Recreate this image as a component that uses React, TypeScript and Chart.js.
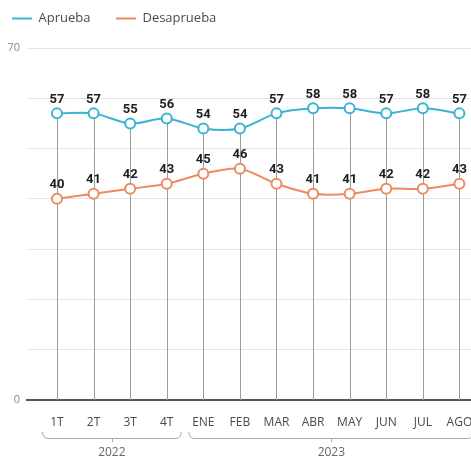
import React, { useEffect, useRef } from 'react';
import { Chart, registerables } from 'chart.js';
Chart.register(...registerables);

const categories = ['1T', '2T', '3T', '4T', 'ENE', 'FEB', 'MAR', 'ABR', 'MAY', 'JUN', 'JUL', 'AGO'];
const aprueba = [57, 57, 55, 56, 54, 54, 57, 58, 58, 57, 58, 57];
const desaprueba = [40, 41, 42, 43, 45, 46, 43, 41, 41, 42, 42, 43];
const seriesValues = [aprueba, desaprueba];
const groupLabels = ['2022', '2023'];
const groupStart = [0, 4];
const groupEnd = [3, 11];
const yGridValues = [0, 10, 20, 30, 40, 50, 60, 70];
const yLabelValues = [0, 70];

const TEAL = '#3bb3d2';
const ORANGE = '#ee8a62';

const overlay = {
  id: 'overlay',
  beforeUpdate(chart: any) {
    const lg = chart.legend;
    if (lg && !lg.__patched) {
      const orig = lg.fit.bind(lg);
      lg.fit = () => {
        orig();
        lg.height += 13;
      };
      lg.__patched = true;
    }
  },
  beforeDatasetsDraw(chart: any) {
    const { ctx, scales } = chart;
    const y = scales.y;
    const meta = chart.getDatasetMeta(0);
    const base = y.getPixelForValue(0);
    ctx.save();
    ctx.strokeStyle = '#9c9c9c';
    ctx.lineWidth = 1;
    meta.data.forEach((pt: any) => {
      const px = Math.round(pt.x) + 0.5;
      ctx.beginPath();
      ctx.moveTo(px, pt.y);
      ctx.lineTo(px, base);
      ctx.stroke();
    });
    ctx.restore();
  },
  afterDatasetsDraw(chart: any) {
    const { ctx, scales } = chart;
    const x = scales.x;
    const y = scales.y;
    ctx.save();
    ctx.fillStyle = '#1e1e1e';
    ctx.font = 'bold 13px Roboto';
    ctx.textAlign = 'center';
    ctx.textBaseline = 'middle';
    seriesValues.forEach((vals, di) => {
      const meta = chart.getDatasetMeta(di);
      meta.data.forEach((pt: any, i: number) => {
        ctx.fillText(String(vals[i]), pt.x, pt.y - 14);
      });
    });
    // group brackets
    const step = x.getPixelForValue(1) - x.getPixelForValue(0);
    const yb = y.getPixelForValue(0) + 38;
    ctx.strokeStyle = '#aaaaaa';
    ctx.lineWidth = 1;
    ctx.fillStyle = '#666666';
    ctx.font = '12px "Open Sans"';
    groupLabels.forEach((lab, gi) => {
      const x0 = x.getPixelForValue(groupStart[gi]) - step * 0.45 + 2;
      const x1 = x.getPixelForValue(groupEnd[gi]) + step * 0.45 - 2;
      const xc = (x.getPixelForValue(groupStart[gi]) + x.getPixelForValue(groupEnd[gi])) / 2;
      ctx.beginPath();
      ctx.moveTo(x0, yb - 6);
      ctx.quadraticCurveTo(x0, yb + 0.5, x0 + 6, yb + 0.5);
      ctx.lineTo(x1 - 6, yb + 0.5);
      ctx.quadraticCurveTo(x1, yb + 0.5, x1, yb - 6);
      ctx.stroke();
      ctx.beginPath();
      ctx.moveTo(Math.round(xc) + 0.5, yb);
      ctx.lineTo(Math.round(xc) + 0.5, yb + 4);
      ctx.stroke();
      ctx.fillText(lab, xc, yb + 15);
    });
    ctx.restore();
  },
};

export default function App() {
  const ref = useRef<HTMLCanvasElement>(null);
  useEffect(() => {
    document.body.style.margin = '0';
    const chart = new Chart(ref.current as HTMLCanvasElement, {
      type: 'line',
      data: {
        labels: categories,
        datasets: [
          {
            label: 'Aprueba    ',
            data: aprueba.map((v, i) => ({ x: i, y: v })),
            borderColor: TEAL,
            backgroundColor: '#ffffff',
            borderWidth: 2,
            pointRadius: 5,
            pointBorderWidth: 2,
            pointBackgroundColor: '#ffffff',
            pointBorderColor: TEAL,
            tension: 0.3,
          },
          {
            label: 'Desaprueba',
            data: desaprueba.map((v, i) => ({ x: i, y: v })),
            borderColor: ORANGE,
            backgroundColor: '#ffffff',
            borderWidth: 2,
            pointRadius: 5,
            pointBorderWidth: 2,
            pointBackgroundColor: '#ffffff',
            pointBorderColor: ORANGE,
            tension: 0.3,
          },
        ] as any,
      },
      options: {
        responsive: false,
        animation: false,
        layout: { padding: { left: 0, right: 0, top: 0, bottom: 0 } },
        plugins: {
          tooltip: { enabled: false },
          legend: {
            position: 'top',
            align: 'start',
            labels: {
              usePointStyle: true,
              pointStyle: 'line',
              pointStyleWidth: 20,
              color: '#4a4a4a',
              font: { family: '"Open Sans"', size: 13 },
              padding: 12,
            },
          },
        },
        scales: {
          x: {
            type: 'linear',
            min: -0.82,
            max: 11.7,
            afterBuildTicks: (axis: any) => {
              axis.ticks = categories.map((_, i) => ({ value: i }));
            },
            afterFit: (axis: any) => {
              axis.height = 61;
            },
            ticks: {
              autoSkip: false,
              maxRotation: 0,
              padding: 7,
              color: '#4a4a4a',
              font: { family: '"Open Sans"', size: 12 },
              callback: (v: any) => categories[v] ?? '',
            },
            grid: { display: false },
            border: { display: true, color: '#555555', width: 2 },
          },
          y: {
            min: 0,
            max: 70,
            afterBuildTicks: (axis: any) => {
              axis.ticks = yGridValues.map((v) => ({ value: v }));
            },
            afterFit: (axis: any) => {
              axis.width = 27;
            },
            ticks: {
              padding: 7,
              color: '#888888',
              font: { family: '"Open Sans"', size: 11 },
              callback: (v: any) => (yLabelValues.includes(v) ? String(v) : ''),
            },
            grid: {
              drawTicks: false,
              color: (c: any) => (c.tick && c.tick.value === 0 ? '#555555' : '#e4e4e4'),
              lineWidth: (c: any) => (c.tick && c.tick.value === 0 ? 2 : 1),
            },
            border: { display: false },
          },
        },
      },
      plugins: [overlay],
    });
    return () => chart.destroy();
  }, []);
  return (
    <div style={{ width: 471, height: 461, overflow: 'hidden', position: 'relative' }}>
      <canvas ref={ref} width={492} height={461} style={{ display: 'block' }} />
    </div>
  );
}
